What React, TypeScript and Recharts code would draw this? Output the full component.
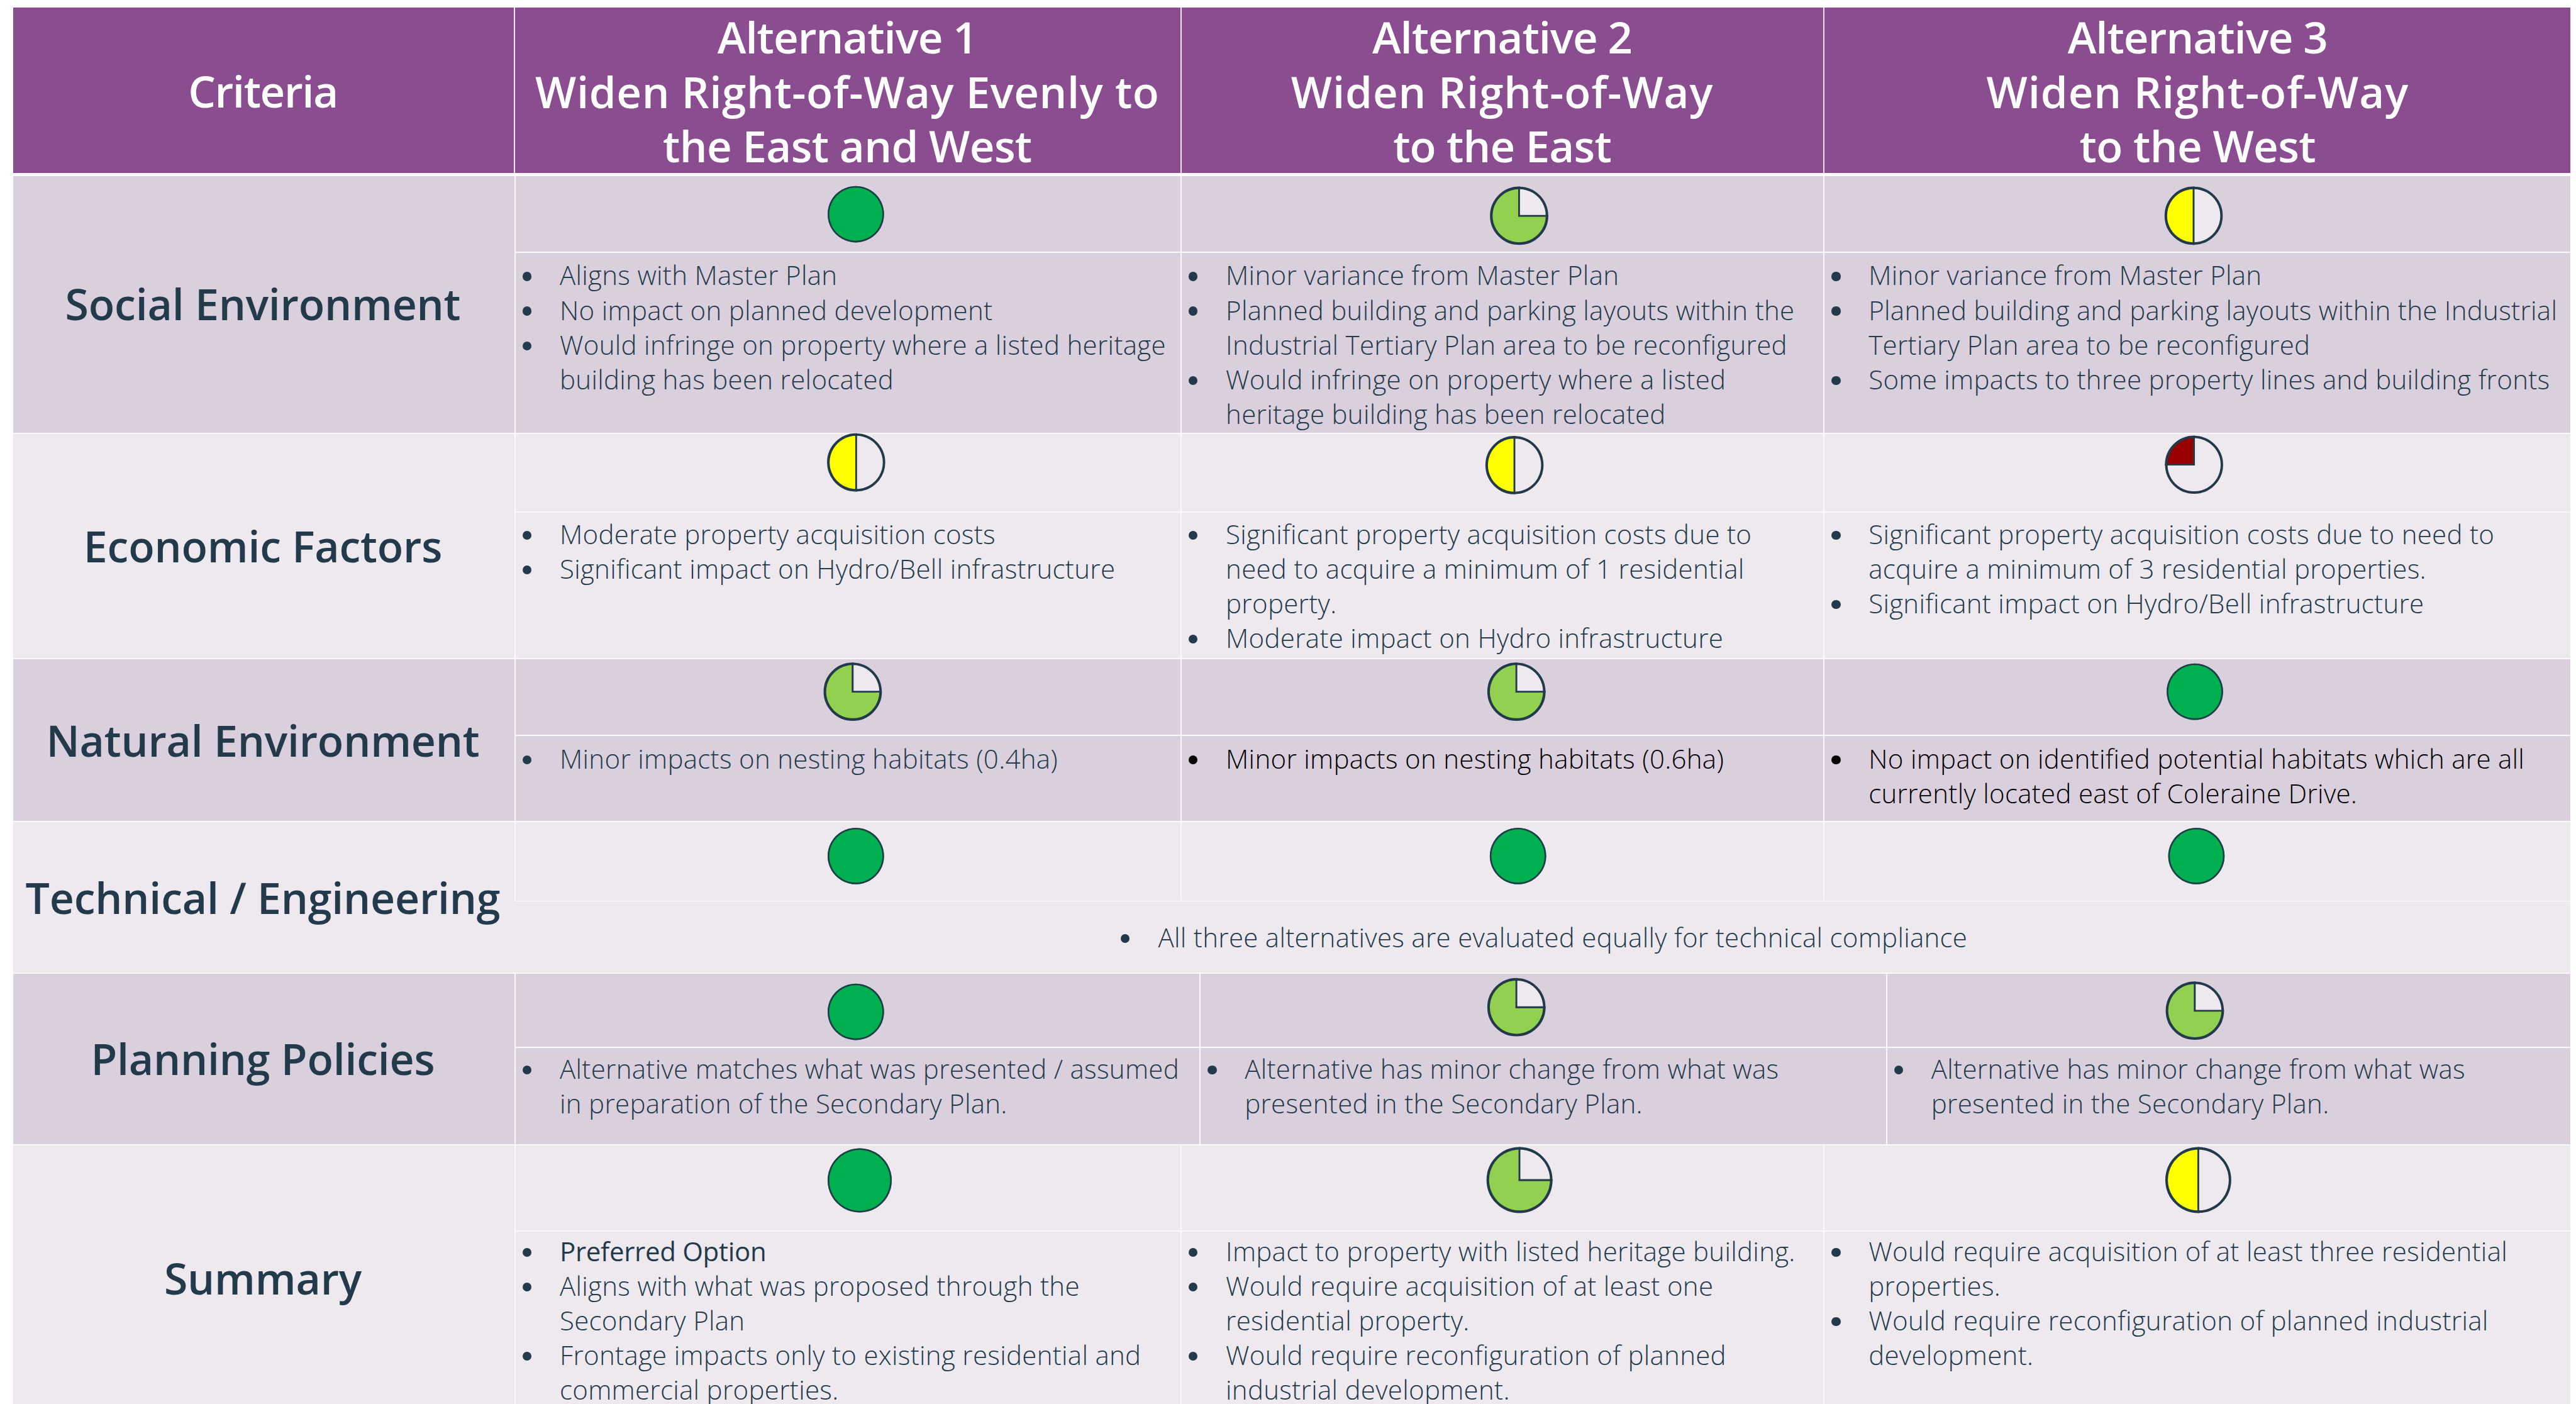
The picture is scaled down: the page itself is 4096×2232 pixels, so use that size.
import { PieChart, Pie, Cell } from 'recharts';

// Everything below is measured on the 6664 wide reference, then scaled
const S = 4096 / 6664;
const FONT = '"Open Sans", sans-serif';

const criteria = ['Social Environment', 'Economic Factors', 'Natural Environment', 'Technical / Engineering', 'Planning Policies', 'Summary'];
const headers = [
  ['Alternative 1', 'Widen Right-of-Way Evenly to', 'the East and West'],
  ['Alternative 2', 'Widen Right-of-Way', 'to the East'],
  ['Alternative 3', 'Widen Right-of-Way', 'to the West'],
];

// harvey ball fill, percent
const ratingsAlt1 = [100, 50, 75, 100, 100, 100];
const ratingsAlt2 = [75, 50, 75, 100, 75, 75];
const ratingsAlt3 = [50, 25, 100, 100, 75, 50];

const notesAlt1 = [
  [['Aligns with Master Plan'], ['No impact on planned development'], ['Would infringe on property where a listed heritage', 'building has been relocated']],
  [['Moderate property acquisition costs'], ['Significant impact on Hydro/Bell infrastructure']],
  [['Minor impacts on nesting habitats (0.4ha)']],
  [],
  [['Alternative matches what was presented / assumed', 'in preparation of the Secondary Plan.']],
  [['Preferred Option'], ['Aligns with what was proposed through the', 'Secondary Plan'], ['Frontage impacts only to existing residential and', 'commercial properties.']],
];
const notesAlt2 = [
  [['Minor variance from Master Plan'], ['Planned building and parking layouts within the', 'Industrial Tertiary Plan area to be reconfigured'], ['Would infringe on property where a listed', 'heritage building has been relocated']],
  [['Significant property acquisition costs due to', 'need to acquire a minimum of 1 residential', 'property.'], ['Moderate impact on Hydro infrastructure']],
  [['Minor impacts on nesting habitats (0.6ha)']],
  [],
  [['Alternative has minor change from what was', 'presented in the Secondary Plan.']],
  [['Impact to property with listed heritage building.'], ['Would require acquisition of at least one', 'residential property.'], ['Would require reconfiguration of planned', 'industrial development.']],
];
const notesAlt3 = [
  [['Minor variance from Master Plan'], ['Planned building and parking layouts within the Industrial', 'Tertiary Plan area to be reconfigured'], ['Some impacts to three property lines and building fronts']],
  [['Significant property acquisition costs due to need to', 'acquire a minimum of 3 residential properties.'], ['Significant impact on Hydro/Bell infrastructure']],
  [['No impact on identified potential habitats which are all', 'currently located east of Coleraine Drive.']],
  [],
  [['Alternative has minor change from what was', 'presented in the Secondary Plan.']],
  [['Would require acquisition of at least three residential', 'properties.'], ['Would require reconfiguration of planned industrial', 'development.']],
];
const sharedTechnicalNote = 'All three alternatives are evaluated equally for technical compliance';
const blackLines = ['Minor impacts on nesting habitats (0.6ha)', 'No impact on identified potential habitats which are all', 'currently located east of Coleraine Drive.'];
const strongLines = ['Preferred Option'];

// layout (reference px)
const rowTop = [455, 1122, 1704, 2125, 2518, 2962, 3631];
const rowSplit = [651, 1323, 1900, 2329, 2708, 3183];
const colX = [34, 1331, 3054, 4717, 6650];
const planningColX = [34, 1331, 3103, 4879, 6650];
const noteTop = [714, 1383, 1964, 2427, 2767, 3238];
const titleY = [787, 1412, 1915, 2322, 2739, 3307];
const ballX = [
  [2214, 3930, 5675],
  [2215, 3918, 5676],
  [2206, 3923, 5678],
  [2214, 3927, 5682],
  [2214, 3923, 5678],
  [2224, 3931, 5687],
];
const ballY = [
  [554, 558, 558],
  [1196, 1203, 1202],
  [1789, 1789, 1789],
  [2214, 2214, 2214],
  [2617, 2605, 2614],
  [3053, 3052, 3052],
];
const ballR = [73, 73, 73, 73, 73, 83];
// letter spacing per header line, Open Sans runs wider than the original on short lines
const headerSpacing = [
  [-1, 0.6, -0.6],
  [-1, 0.9, -0.8],
  [-1, 0.9, -0.6],
];

const INK = '#233A4A';
const PURPLE = '#8A4E90';
const BAND_DARK = '#DACFDC';
const BAND_LIGHT = '#EDE9EF';
const BALL_COLORS: Record<number, string> = { 100: '#00B050', 75: '#92D050', 50: '#FFFF00', 25: '#990000' };

const LINE = 89.6;
const NOTE_SIZE = 42;
const NOTE_SPACING = 0.3;
const HEAD_SIZE = 69;

function Box({ x, y, w, h, color }: { x: number; y: number; w: number; h: number; color: string }) {
  return <div style={{ position: 'absolute', left: x * S, top: y * S, width: w * S, height: h * S, background: color }} />;
}

function Bullet({ x, y, color }: { x: number; y: number; color: string }) {
  const d = 23 * S;
  return <div style={{ position: 'absolute', left: x * S - d / 2, top: y * S - d / 2, width: d, height: d, borderRadius: '50%', background: color }} />;
}

function Line({ x, y, text, size, pitch, weight, color, anchor, spacing }: any) {
  const style: any = {
    position: 'absolute',
    top: (y - pitch / 2) * S,
    height: pitch * S,
    lineHeight: `${pitch * S}px`,
    fontFamily: FONT,
    fontSize: size,
    fontWeight: weight,
    color,
    letterSpacing: spacing,
    whiteSpace: 'nowrap',
  };
  if (anchor === 'middle') {
    style.left = (x - 1500) * S;
    style.width = 3000 * S;
    style.textAlign = 'center';
  } else {
    style.left = x * S;
  }
  return <div style={style}>{text}</div>;
}

function Notes({ bullets, x, y }: { bullets: string[][]; x: number; y: number }) {
  let row = 0;
  const out: any[] = [];
  bullets.forEach((lines, b) => {
    lines.forEach((text, l) => {
      const ly = y + row * LINE;
      const black = blackLines.includes(text);
      const strong = strongLines.includes(text);
      if (l === 0) {
        out.push(<Bullet key={`b${b}`} x={x + 33} y={ly + 1} color={black ? '#000' : INK} />);
      }
      out.push(
        <Line
          key={`t${b}-${l}`}
          x={x + 117}
          y={ly - 3}
          text={text}
          size={NOTE_SIZE}
          pitch={LINE}
          weight={strong ? 400 : 300}
          color={black ? '#000' : INK}
          spacing={strong ? -0.3 : NOTE_SPACING}
        />
      );
      row += 1;
    });
  });
  return <>{out}</>;
}

export default function App() {
  const ratings = [ratingsAlt1, ratingsAlt2, ratingsAlt3];
  const notes = [notesAlt1, notesAlt2, notesAlt3];

  return (
    <div style={{ position: 'absolute', left: 0, top: 0, width: 4096, height: 2232, overflow: 'hidden', background: '#fff' }}>
      {/* header band */}
      <Box x={34} y={19} w={6616} h={428} color={PURPLE} />
      {[1330, 3054, 4717].map((x) => (
        <Box key={x} x={x} y={19} w={3} h={428} color="#F0E8F0" />
      ))}
      <Line x={680} y={235} text="Criteria" size={HEAD_SIZE} pitch={141} weight={600} color="#fff" anchor="middle" spacing={-1.4} />
      {headers.map((lines, c) =>
        lines.map((text, l) => (
          <Line key={`${c}-${l}`} x={[2192, 3886, 5685][c]} y={95 + l * 141} text={text} size={HEAD_SIZE} pitch={141} weight={600} color="#fff" anchor="middle" spacing={headerSpacing[c][l]} />
        ))
      )}

      {/* rows */}
      {criteria.map((name, i) => {
        const band = i % 2 === 0 ? BAND_DARK : BAND_LIGHT;
        const xs = i === 4 ? planningColX : colX;
        const top = rowTop[i];
        const bottom = rowTop[i + 1];
        return (
          <div key={name}>
            <Box x={34} y={top} w={6616} h={bottom - top} color={band} />
            <Box x={1331} y={rowSplit[i]} w={5319} h={3} color="#FAF8FA" />
            {i > 0 && <Box x={34} y={top - 2} w={6616} h={3} color="#FAF8FA" />}
            {[1, 2, 3].map((k) => (
              <Box key={k} x={xs[k]} y={top} w={3} h={(i === 3 ? rowSplit[i] : bottom) - top} color="#FAF8FA" />
            ))}
            <Line x={680} y={titleY[i]} text={name} size={68} pitch={141} weight={600} color={INK} anchor="middle" spacing={-0.2} />
            {[0, 1, 2].map((c) => (
              <Notes key={c} bullets={notes[c][i]} x={xs[c + 1]} y={noteTop[i]} />
            ))}
          </div>
        );
      })}
      <Bullet x={2911} y={noteTop[3] + 1} color={INK} />
      <Line x={2996} y={noteTop[3] - 3} text={sharedTechnicalNote} size={NOTE_SIZE} pitch={LINE} weight={300} color={INK} spacing={NOTE_SPACING} />

      {/* harvey balls */}
      <div style={{ position: 'absolute', left: 0, top: 0 }}>
        <PieChart width={4096} height={2232} margin={{ top: 0, right: 0, bottom: 0, left: 0 }}>
          {criteria.flatMap((name, i) =>
            ratings.map((series, c) => {
              const rating = series[i];
              const data = [
                { name: 'rated', value: rating },
                { name: 'open', value: 100 - rating },
              ];
              const cx = ballX[i][c] * S;
              const cy = ballY[i][c] * S;
              const r = ballR[i] * S;
              const whole = rating === 100;
              return [
                <Pie key={`fill-${i}-${c}`} data={data} dataKey="value" cx={cx} cy={cy} innerRadius={0} outerRadius={r} startAngle={90} endAngle={450} isAnimationActive={false}>
                  <Cell fill={BALL_COLORS[rating]} stroke={whole ? 'none' : INK} strokeWidth={whole ? 0 : 3} />
                  <Cell fill={BAND_LIGHT} stroke={whole ? 'none' : INK} strokeWidth={whole ? 0 : 2.6} />
                </Pie>,
                <Pie key={`ring-${i}-${c}`} data={[{ name: 'outline', value: 1 }]} dataKey="value" cx={cx} cy={cy} innerRadius={r - 2.6} outerRadius={r} startAngle={90} endAngle={450} isAnimationActive={false}>
                  <Cell fill={INK} stroke="none" />
                </Pie>,
              ];
            })
          )}
        </PieChart>
      </div>
    </div>
  );
}
